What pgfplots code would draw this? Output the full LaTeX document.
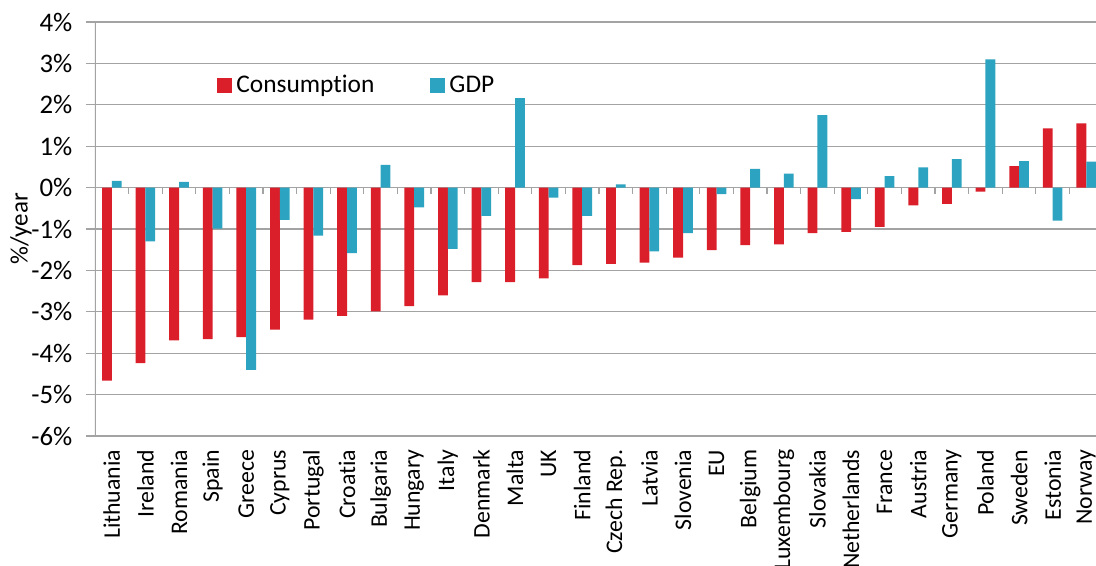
\documentclass[border=0pt]{standalone}
\usepackage{fontspec}
\setmainfont{Carlito}[Ligatures=NoCommon]
\usepackage{pgfplots}
\pgfplotsset{compat=1.18}
\definecolor{consred}{HTML}{DA1F2A}
\definecolor{gdpblue}{HTML}{2CA3C0}
\definecolor{gridgray}{HTML}{A3A3A3}
\begin{document}
\begin{tikzpicture}
\fontsize{12.5}{15}\selectfont
\begin{axis}[
    scale only axis,
    width=500.5pt, height=207pt,
    ybar=0pt, bar width=4.9pt,
    xmin=-0.5, xmax=29.29,
    ymin=-6, ymax=4,
    ytick={-6,-5,...,4},
    yticklabels={-6\%,-5\%,-4\%,-3\%,-2\%,-1\%,0\%,1\%,2\%,3\%,4\%},
    ytick pos=left, tick align=outside,
    major tick length=4.5pt,
    ytick style={gridgray, line width=0.6pt},
    ymajorgrids,
    grid style={gridgray, line width=0.6pt},
    axis line style={draw=none},
    xtick={0,...,29},
    xticklabels={Lithuania,Ireland,Romania,Spain,Greece,Cyprus,Portugal,Croatia,Bulgaria,Hungary,Italy,Denmark,Malta,UK,Finland,Czech Rep.,Latvia,Slovenia,EU,Belgium,Luxembourg,Slovakia,Netherlands,France,Austria,Germany,Poland,Sweden,Estonia,Norway},
    xticklabel style={rotate=90, anchor=east, font=\fontsize{11.9}{13}\selectfont, xshift=2pt},
    x tick style={draw=none},
    yticklabel style={xshift=-2.5pt, font=\fontsize{13.4}{15}\selectfont},
    every axis y label/.style={at={(axis description cs:0,0.5)}, xshift=-37pt, rotate=90, anchor=center},
    ylabel={\%/year},
    legend style={at={(axis cs:2.95,2.46)}, anchor=west, draw=none, fill=none,
      legend columns=2, /tikz/every even column/.append style={column sep=26pt},
      font=\fontsize{12.7}{15}\selectfont},
    legend image code/.code={\fill[#1] (0pt,-3.75pt) rectangle (7.5pt,3.75pt);},
]
\addplot[fill=consred, draw=none] coordinates {
  (0,-4.66) (1,-4.24) (2,-3.69) (3,-3.66) (4,-3.61) (5,-3.43) (6,-3.19) (7,-3.10)
  (8,-2.99) (9,-2.86) (10,-2.60) (11,-2.28) (12,-2.28) (13,-2.19) (14,-1.87)
  (15,-1.84) (16,-1.81) (17,-1.69) (18,-1.51) (19,-1.39) (20,-1.37) (21,-1.10)
  (22,-1.07) (23,-0.95) (24,-0.43) (25,-0.39) (26,-0.10) (27,0.52) (28,1.43) (29,1.55)
};
\addplot[fill=gdpblue, draw=none] coordinates {
  (0,0.16) (1,-1.30) (2,0.14) (3,-0.99) (4,-4.40) (5,-0.78) (6,-1.16) (7,-1.58)
  (8,0.55) (9,-0.48) (10,-1.48) (11,-0.68) (12,2.16) (13,-0.24) (14,-0.68)
  (15,0.08) (16,-1.54) (17,-1.10) (18,-0.16) (19,0.45) (20,0.34) (21,1.75)
  (22,-0.28) (23,0.28) (24,0.49) (25,0.69) (26,3.10) (27,0.64) (28,-0.80) (29,0.63)
};
\legend{Consumption,GDP}
\draw[gridgray, line width=0.6pt] (rel axis cs:0,0) -- (rel axis cs:0,1);
\pgfplotsinvokeforeach{0.5,1.5,...,28.5}{\draw[gridgray, line width=0.6pt] (axis cs:#1,0) -- ([yshift=-3.3pt]axis cs:#1,0);}
\coordinate (bl) at (rel axis cs:0,0);
\coordinate (tr) at (rel axis cs:1,1);
\end{axis}
\pgfresetboundingbox
\useasboundingbox ([shift={(-47.5pt,-64.5pt)}]bl) rectangle ([shift={(0pt,11pt)}]tr);
\end{tikzpicture}
\end{document}
